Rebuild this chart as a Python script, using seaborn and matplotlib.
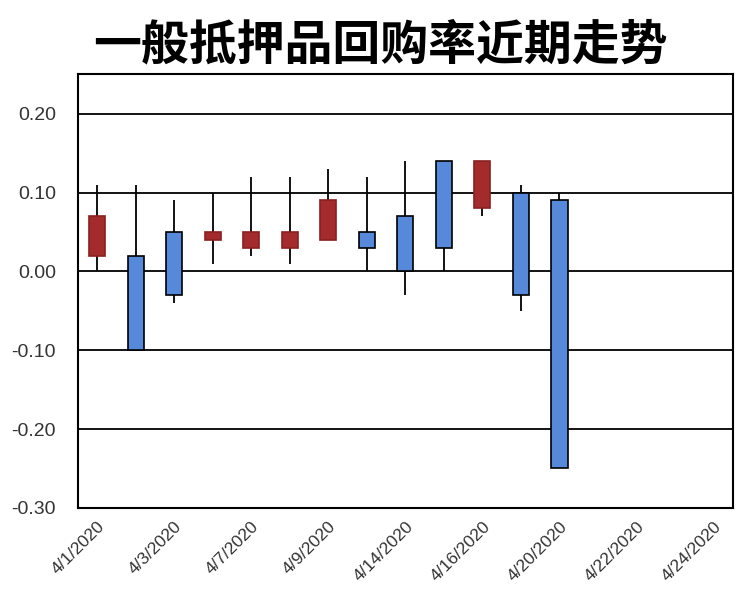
import matplotlib
matplotlib.use("Agg")
import matplotlib.pyplot as plt
import seaborn as sns

dates = ["4/1/2020", "4/2/2020", "4/3/2020", "4/6/2020", "4/7/2020", "4/8/2020",
         "4/9/2020", "4/13/2020", "4/14/2020", "4/15/2020", "4/16/2020", "4/17/2020",
         "4/20/2020", "4/21/2020", "4/22/2020", "4/23/2020", "4/24/2020"]
open_ = [0.07, -0.10, -0.03, 0.05, 0.05, 0.05, 0.09, 0.03, 0.00, 0.03, 0.14, -0.03, -0.25]
close = [0.02, 0.02, 0.05, 0.04, 0.03, 0.03, 0.04, 0.05, 0.07, 0.14, 0.08, 0.10, 0.09]
high = [0.11, 0.11, 0.09, 0.10, 0.12, 0.12, 0.13, 0.12, 0.14, 0.14, 0.14, 0.11, 0.10]
low = [0.00, -0.10, -0.04, 0.01, 0.02, 0.01, 0.04, 0.00, -0.03, 0.00, 0.07, -0.05, -0.25]
yticks = [-0.30, -0.20, -0.10, 0.00, 0.10, 0.20]

sns.set_theme(style="white")
plt.rcParams['font.family'] = ['Liberation Sans', 'Noto Sans CJK SC', 'DejaVu Sans']

fig = plt.figure(figsize=(7.5, 6.09), dpi=100)
ax = fig.add_axes([0.104, 0.166, 0.873, 0.712])

blue = "#5689da"
red = "#a42b2b"

# candles: black wick, body from open to close
for i in range(len(open_)):
    ax.vlines(i, low[i], high[i], color="black", linewidth=1.3, zorder=2)
    up = close[i] >= open_[i]
    bottom = min(open_[i], close[i])
    height = abs(close[i] - open_[i])
    ax.bar(i, height, bottom=bottom, width=0.42,
           color=blue if up else red,
           edgecolor="black" if up else "#8a2020",
           linewidth=1.2, zorder=3)

ax.set_xlim(-0.5, len(dates) - 0.5)
ax.set_ylim(-0.30, 0.25)
ax.set_yticks(yticks)
ax.set_yticklabels([f"{v:.2f}" for v in yticks], fontsize=14, color="#333333")
for v in yticks[1:]:
    ax.axhline(v, color="black", linewidth=1.3, zorder=1)

ax.set_xticks(range(0, len(dates), 2))
ax.set_xticklabels(dates[::2], rotation=45, ha="right", rotation_mode="anchor",
                   fontsize=12.5, color="#333333")
ax.tick_params(axis="x", length=0, pad=8)
ax.tick_params(axis="y", length=0, pad=16)

for s in ax.spines.values():
    s.set_color("black")
    s.set_linewidth(1.5)

fig.text(0.507, 0.926, "一般抵押品回购率近期走势", ha="center", va="center",
         fontsize=34.5, fontweight="bold", family=["Noto Sans CJK SC", "DejaVu Sans"],
         color="black")

fig.savefig("out.png", dpi=100)
